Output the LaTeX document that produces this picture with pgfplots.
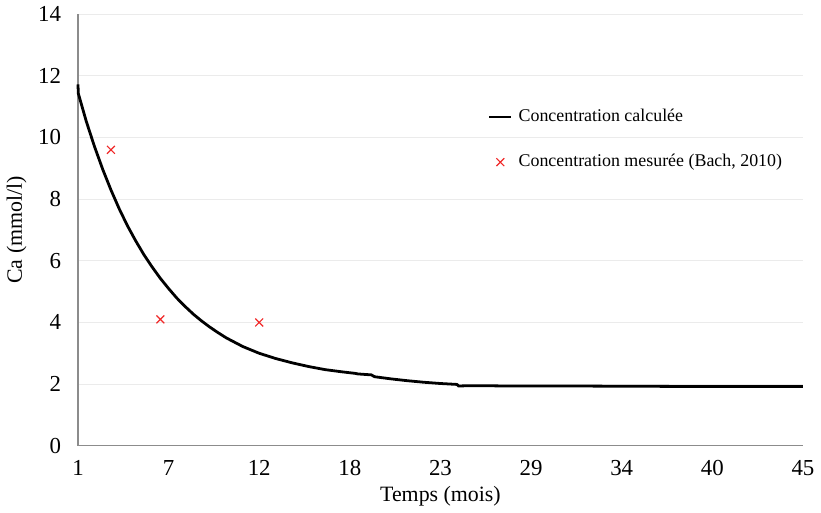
\documentclass[border=0pt]{standalone}
\usepackage{fontspec}
\setmainfont{Liberation Serif}
\usepackage{pgfplots}
\pgfplotsset{compat=1.18}

\definecolor{gridgray}{RGB}{235,235,235}
\definecolor{axisgray}{RGB}{140,140,140}
\definecolor{mesred}{RGB}{240,40,40}

\pgfplotsset{
    shortline legend/.style={legend image code/.code={
        \draw[##1, mark=none] (0pt,0pt) -- (11pt,0pt);}},
    midmark legend/.style={legend image code/.code={
        \draw[##1] plot coordinates {(5.5pt,0pt)};}},
}

\begin{document}
\begin{tikzpicture}
\begin{axis}[
    scale only axis,
    width=364.5pt, height=217pt,
    xmin=1, xmax=45,
    ymin=0, ymax=14,
    xtick={1,6.5,12,17.5,23,28.5,34,39.5,45},
    xticklabels={1,7,12,18,23,29,34,40,45},
    ytick={0,2,...,14},
    axis lines=left,
    axis line style={-, axisgray, line width=0.6pt},
    major tick length=0pt,
    ymajorgrids,
    grid style={gridgray, line width=0.6pt},
    tick label style={font=\fontsize{11.5}{13}\selectfont},
    yticklabel style={xshift=-5pt},
    xticklabel style={yshift=-4pt},
    /pgf/number format/assume math mode=true,
    xlabel={Temps (mois)},
    ylabel={Ca (mmol/l)},
    label style={font=\fontsize{11}{13}\selectfont},
    xlabel style={yshift=2pt},
    ylabel style={yshift=-1pt},
    legend style={
        at={(0.565,0.79)}, anchor=north west,
        draw=none, fill=none,
        font=\fontsize{9}{11}\selectfont,
        row sep=11pt,
        legend cell align=left,
        inner sep=0pt,
        /tikz/every odd column/.style={column sep=1pt},
    },
    clip=false,
]
\addplot[black, line width=1.4pt, shortline legend] coordinates {
    (1,11.72) (1.02,11.43) (1.5,10.53) (2,9.71) (2.5,8.97) (3,8.30)
    (3.5,7.69) (4,7.14) (4.5,6.65) (5,6.20) (5.5,5.80) (6,5.43)
    (6.5,5.10) (7,4.79) (7.5,4.52) (8,4.27) (8.5,4.05) (9,3.85)
    (9.5,3.67) (10,3.50) (11,3.22) (12,3.00) (13,2.83) (14,2.69)
    (15,2.57) (16,2.47) (17,2.40) (17.8,2.35) (18,2.33) (18.8,2.30)
    (19,2.24) (20,2.17) (21,2.11) (22,2.06) (23,2.02) (24,1.99)
    (24.1,1.94) (25,1.95) (27,1.94) (30,1.94) (35,1.93) (40,1.92) (45,1.92)
};
\addlegendentry{Concentration calculée}
\addplot[only marks, mark=x, mark size=2.8pt, mesred, mark options={line width=0.55pt},
    midmark legend] coordinates {
    (3,9.6) (6,4.1) (12,4.0)
};
\addlegendentry{Concentration mesurée (Bach, 2010)}
\end{axis}
\end{tikzpicture}
\end{document}
